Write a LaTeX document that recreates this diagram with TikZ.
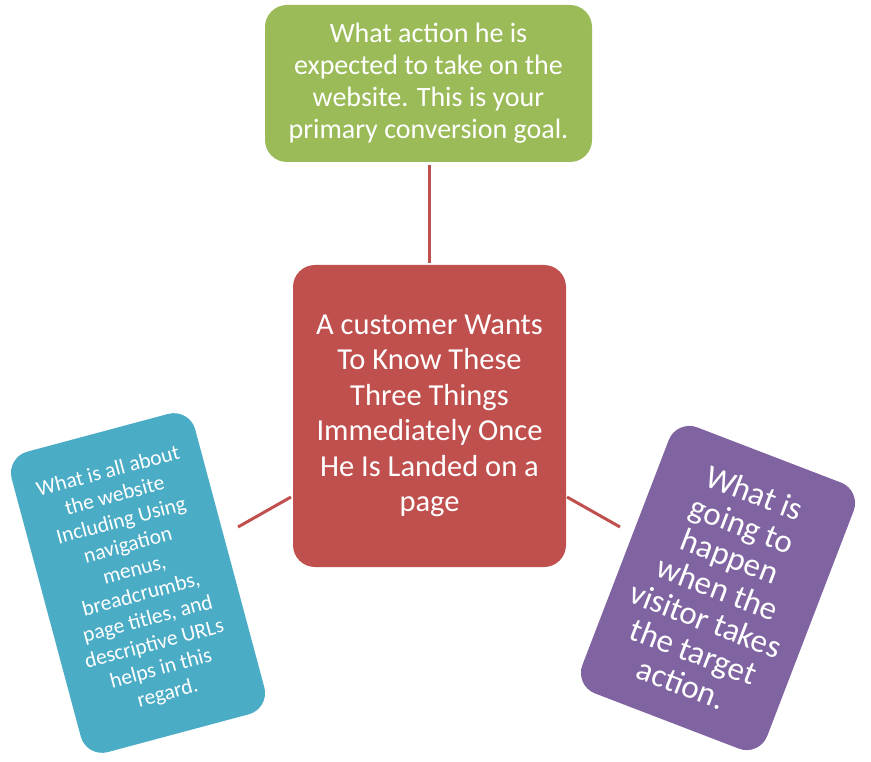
\documentclass[tikz,border=0pt]{standalone}
\usepackage{fontspec}
\setmainfont{Carlito}
\definecolor{cgreen}{HTML}{9BBB59}
\definecolor{cred}{HTML}{C0504D}
\definecolor{cblue}{HTML}{4BACC6}
\definecolor{cpurple}{HTML}{8064A2}
\begin{document}
\begin{tikzpicture}[x=1pt,y=-1pt,
  box/.style={rounded corners=22pt,text=white,align=center,inner sep=0pt},
  conn/.style={draw=cred,line width=3pt}]
\useasboundingbox (0,0) rectangle (871,762);
\node[box,fill=cgreen,minimum width=327pt,minimum height=157pt,font=\fontsize{28}{32}\selectfont] (top) at (428.5,83.5)
 {What action he is\\expected to take on the\\website. This is your\\primary conversion goal.};
\node[box,fill=cred,minimum width=273pt,minimum height=302pt,font=\fontsize{30.5}{35.5}\selectfont] (mid) at (429.5,416)
 {A customer Wants\\To Know These\\Three Things\\Immediately Once\\He Is Landed on a\\page};
\node[box,fill=cblue,minimum width=190pt,minimum height=311pt,rotate=15,font=\fontsize{21.5}{25.5}\selectfont] (left) at (138,583)
 {What is all about\\the website\\Including Using\\navigation\\menus,\\breadcrumbs,\\page titles, and\\descriptive URLs\\helps in this\\regard.};
\node[box,fill=cpurple,minimum width=198pt,minimum height=285pt,rotate=-21,font=\fontsize{33}{34}\selectfont] (right) at (718,588)
 {What is\\going to\\happen\\when the\\visitor takes\\the target\\action.};
\coordinate (t1) at (429,165); \coordinate (t2) at (429,263);
\coordinate (l1) at (238,527); \coordinate (l2) at (291,497);
\coordinate (r1) at (567,497); \coordinate (r2) at (620,527);
\draw[conn] (t1) -- (t2);
\draw[conn] (l1) -- (l2);
\draw[conn] (r1) -- (r2);
\end{tikzpicture}
\end{document}
